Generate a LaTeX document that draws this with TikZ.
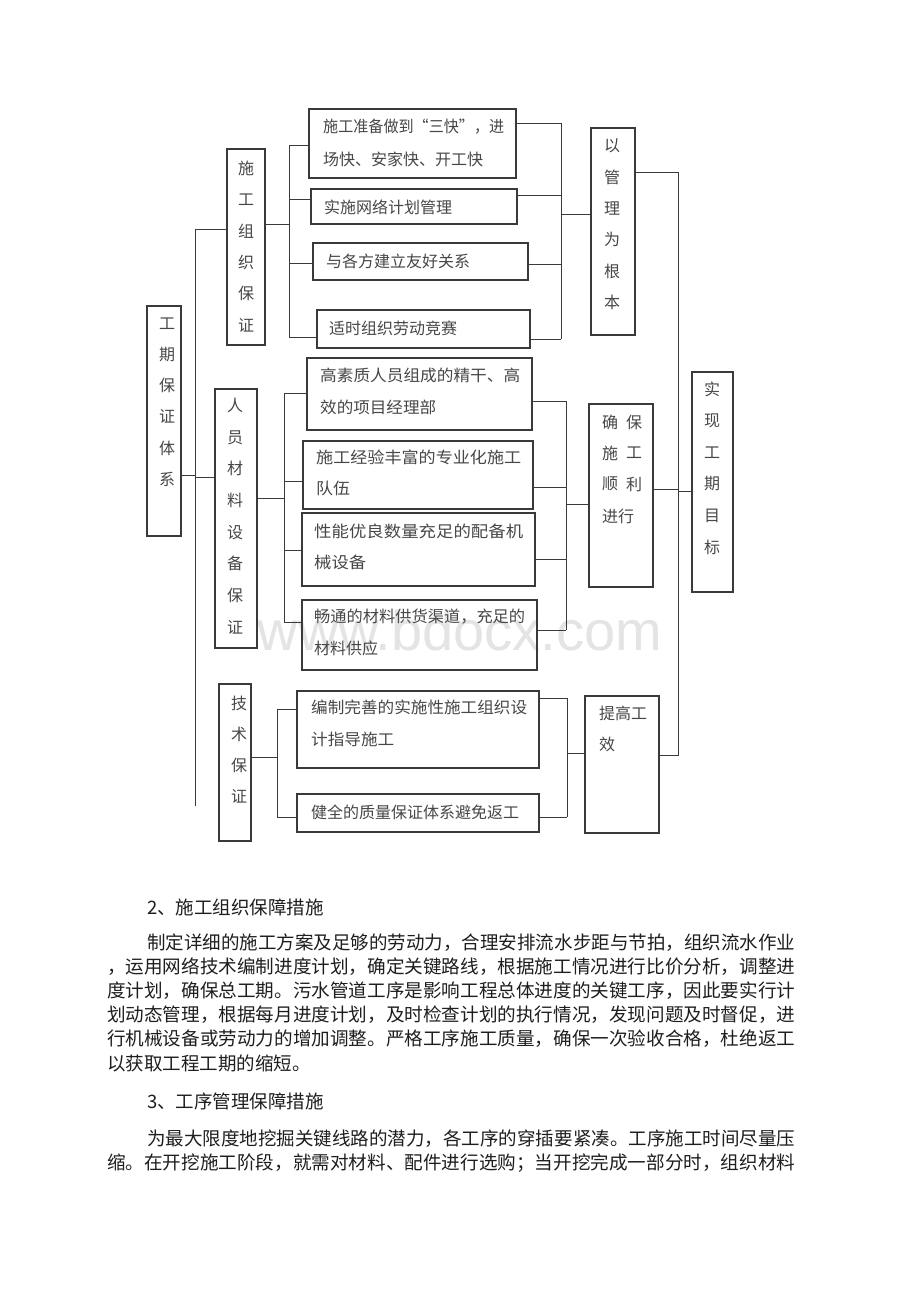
\documentclass[tikz,border=0pt]{standalone}
\usepackage{fontspec}
\usepackage{graphicx}
\newfontfamily\cjk{Noto Sans CJK SC}
\newfontfamily\wmfont{Liberation Sans}
\usetikzlibrary{fit}
\definecolor{ln}{HTML}{3A3A3A}
\definecolor{tx}{HTML}{474747}
\definecolor{bt}{HTML}{1E1E1E}
\definecolor{wm}{HTML}{E4E4E4}
\newcommand{\jl}[2]{\resizebox{#1pt}{\height}{#2}}
\begin{document}
\begin{tikzpicture}[x=1pt,y=-1pt,
 box/.style={draw=ln, line width=1.1pt, inner sep=0pt},
 conn/.style={draw=ln, line width=0.9pt},
 lbl/.style={text=tx, font=\cjk\fontsize{16}{16}\selectfont, inner sep=0pt, anchor=west},
 vlbl/.style={text=tx, inner sep=0pt, align=center, anchor=center, font=\cjk\fontsize{16}{#1}\selectfont},
 body/.style={text=bt, font=\cjk\fontsize{18.5}{18.5}\selectfont, inner sep=0pt, anchor=west}]
\useasboundingbox (0,0) rectangle (920,1302);
\fill[white] (0,0) rectangle (920,1302);

% watermark
\node[text=wm, font=\wmfont\fontsize{56}{56}\selectfont, inner sep=0pt, anchor=base] (wmk) at (460,650) {www.bdocx.com};

% boxes
\node[box, fit={(147,306) (181,536)}] (gq) {};
\node[box, fit={(227,149) (265,345)}] (sg) {};
\node[box, fit={(215,389) (257,648)}] (ry) {};
\node[box, fit={(219,684) (251,841)}] (js) {};
\node[box, fit={(309,109) (516,178)}] (A1) {};
\node[box, fit={(311,189) (517,224)}] (A2) {};
\node[box, fit={(313,243) (528,280)}] (A3) {};
\node[box, fit={(317,310) (530,348)}] (A4) {};
\node[box, fit={(307,358) (532,430)}] (B1) {};
\node[box, fit={(303,441) (533,509)}] (B2) {};
\node[box, fit={(302,513) (535,586)}] (B3) {};
\node[box, fit={(302,600) (537,670)}] (B4) {};
\node[box, fit={(297,691) (539,768)}] (C1) {};
\node[box, fit={(297,794) (539,832)}] (C2) {};
\node[box, fit={(591,128) (635,335)}] (yg) {};
\node[box, fit={(589,404) (653,587)}] (qb) {};
\node[box, fit={(585,696) (659,833)}] (tg) {};
\node[box, fit={(692,372) (733,592)}] (sx) {};

% vertical labels
\node[vlbl=31.2] (gqT) at (167,402) {工\\期\\保\\证\\体\\系};
\node[vlbl=31.4] (sgT) at (246,246.5) {施\\工\\组\\织\\保\\证};
\node[vlbl=31.7] (ryT) at (235,516) {人\\员\\材\\料\\设\\备\\保\\证};
\node[vlbl=31] (jsT) at (239,749.5) {技\\术\\保\\证};
\node[vlbl=31.4] (ygT) at (612,224.5) {以\\管\\理\\为\\根\\本};
\node[vlbl=31.6] (sxT) at (712,468) {实\\现\\工\\期\\目\\标};

% 确保施工顺利进行
\node[lbl, anchor=center] (q1) at (610,422) {确};
\node[lbl, anchor=center] (q2) at (634,422) {保};
\node[lbl, anchor=center] (q3) at (610,453) {施};
\node[lbl, anchor=center] (q4) at (634,453) {工};
\node[lbl, anchor=center] (q5) at (610,484) {顺};
\node[lbl, anchor=center] (q6) at (634,484) {利};
\node[lbl] (q7) at (602,516) {进行};

% box texts
\node[lbl] (A1a) at (323,127) {\jl{181}{施工准备做到“三快”，进}};
\node[lbl] (A1b) at (323,159) {场快、安家快、开工快};
\node[lbl] (A2t) at (324,207) {实施网络计划管理};
\node[lbl] (A3t) at (326,261) {与各方建立友好关系};
\node[lbl] (A4t) at (329,328) {适时组织劳动竞赛};
\node[lbl] (B1a) at (320,375) {\jl{200}{高素质人员组成的精干、高}};
\node[lbl] (B1b) at (320,407) {\jl{116}{效的项目经理部}};
\node[lbl] (B2a) at (316,457) {\jl{205}{施工经验丰富的专业化施工}};
\node[lbl] (B2b) at (316,488) {\jl{34}{队伍}};
\node[lbl] (B3a) at (314,531) {\jl{209}{性能优良数量充足的配备机}};
\node[lbl] (B3b) at (314,562) {\jl{52}{械设备}};
\node[lbl] (B4a) at (314,617) {\jl{211}{畅通的材料供货渠道，充足的}};
\node[lbl] (B4b) at (314,648) {材料供应};
\node[lbl] (C1a) at (311,707) {\jl{216}{编制完善的实施性施工组织设}};
\node[lbl] (C1b) at (311,739) {\jl{83}{计指导施工}};
\node[lbl] (C2t) at (311,812) {健全的质量保证体系避免返工};
\node[lbl] (tga) at (599,713) {提高工};
\node[lbl] (tgb) at (599,744) {效};

% connectors: main left
\coordinate (mT) at (195,229);
\coordinate (mB) at (195,806);
\coordinate (mG) at (195,475);
\coordinate (mR) at (195,477);
\draw[conn] (mT) -- (mB);
\draw[conn] (mT) -- (sg.west |- mT);
\draw[conn] (gq.east |- mG) -- (mG);
\draw[conn] (mR) -- (ry.west |- mR);

% group A
\coordinate (aJ) at (289,224);
\draw[conn] (sg.east |- aJ) -- (aJ);
\coordinate (aL1) at (289,145);
\coordinate (aL2) at (289,199);
\coordinate (aL3) at (289,263);
\coordinate (aL4) at (289,337);
\draw[conn] (aL1) -- (aL4);
\draw[conn] (aL1) -- (A1.west |- aL1);
\draw[conn] (aL2) -- (A2.west |- aL2);
\draw[conn] (aL3) -- (A3.west |- aL3);
\draw[conn] (aL4) -- (A4.west |- aL4);
\coordinate (aR1) at (561,123);
\coordinate (aR2) at (561,195);
\coordinate (aR3) at (561,264);
\coordinate (aR4) at (561,339);
\coordinate (aRJ) at (561,214);
\draw[conn] (aR1) -- (aR4);
\draw[conn] (A1.east |- aR1) -- (aR1);
\draw[conn] (A2.east |- aR2) -- (aR2);
\draw[conn] (A3.east |- aR3) -- (aR3);
\draw[conn] (A4.east |- aR4) -- (aR4);
\draw[conn] (aRJ) -- (yg.west |- aRJ);

% group B
\coordinate (bJ) at (284,498);
\draw[conn] (ry.east |- bJ) -- (bJ);
\coordinate (bL1) at (284,393);
\coordinate (bL2) at (284,481);
\coordinate (bL3) at (284,550);
\coordinate (bL4) at (284,622);
\draw[conn] (bL1) -- (bL4);
\draw[conn] (bL1) -- (B1.west |- bL1);
\draw[conn] (bL2) -- (B2.west |- bL2);
\draw[conn] (bL3) -- (B3.west |- bL3);
\draw[conn] (bL4) -- (B4.west |- bL4);
\coordinate (bR1) at (566,401);
\coordinate (bR2) at (566,487);
\coordinate (bR3) at (566,559);
\coordinate (bR4) at (566,630);
\coordinate (bRJ) at (566,504);
\draw[conn] (bR1) -- (bR4);
\draw[conn] (B1.east |- bR1) -- (bR1);
\draw[conn] (B2.east |- bR2) -- (bR2);
\draw[conn] (B3.east |- bR3) -- (bR3);
\draw[conn] (B4.east |- bR4) -- (bR4);
\draw[conn] (bRJ) -- (qb.west |- bRJ);

% group C
\coordinate (cJ) at (277,757);
\draw[conn] (js.east |- cJ) -- (cJ);
\coordinate (cL1) at (277,709);
\coordinate (cL2) at (277,817);
\draw[conn] (cL1) -- (cL2);
\draw[conn] (cL1) -- (C1.west |- cL1);
\draw[conn] (cL2) -- (C2.west |- cL2);
\coordinate (cR1) at (567,698);
\coordinate (cR2) at (567,817);
\coordinate (cRJ) at (567,753);
\draw[conn] (cR1) -- (cR2);
\draw[conn] (C1.east |- cR1) -- (cR1);
\draw[conn] (C2.east |- cR2) -- (cR2);
\draw[conn] (cRJ) -- (tg.west |- cRJ);

% far right
\coordinate (fT) at (678,172);
\coordinate (fB) at (678,756);
\coordinate (fQ) at (678,489);
\coordinate (fS) at (678,491);
\coordinate (fG) at (678,755);
\draw[conn] (fT) -- (fB);
\draw[conn] (yg.east |- fT) -- (fT);
\draw[conn] (qb.east |- fQ) -- (fQ);
\draw[conn] (fS) -- (sx.west |- fS);
\draw[conn] (tg.east |- fG) -- (fG);

% body text
\node[body] (h2) at (147,907) {2、施工组织保障措施};
\node[body] (p1) at (147,943) {\jl{648}{制定详细的施工方案及足够的劳动力，合理安排流水步距与节拍，组织流水作业}};
\node[body] (p2) at (107,967) {\jl{688}{，运用网络技术编制进度计划，确定关键路线，根据施工情况进行比价分析，调整进}};
\node[body] (p3) at (107,991) {\jl{688}{度计划，确保总工期。污水管道工序是影响工程总体进度的关键工序，因此要实行计}};
\node[body] (p4) at (107,1015) {\jl{688}{划动态管理，根据每月进度计划，及时检查计划的执行情况，发现问题及时督促，进}};
\node[body] (p5) at (107,1039) {\jl{688}{行机械设备或劳动力的增加调整。严格工序施工质量，确保一次验收合格，杜绝返工}};
\node[body] (p6) at (107,1063) {以获取工程工期的缩短。};
\node[body] (h3) at (147,1101) {3、工序管理保障措施};
\node[body] (q8) at (147,1139) {\jl{648}{为最大限度地挖掘关键线路的潜力，各工序的穿插要紧凑。工序施工时间尽量压}};
\node[body] (q9) at (107,1163) {\jl{688}{缩。在开挖施工阶段，就需对材料、配件进行选购；当开挖完成一部分时，组织材料}};
\end{tikzpicture}
\end{document}
